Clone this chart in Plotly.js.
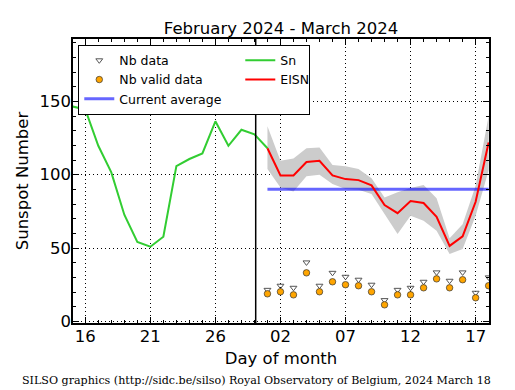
<!DOCTYPE html>
<html>
<head>
<meta charset="utf-8">
<script src="https://cdn.plot.ly/plotly-3.0.1.min.js"></script>
<style>html,body{margin:0;padding:0;background:#fff;}#chart{width:515px;height:390px;}</style>
</head>
<body>
<div id="chart"></div>
<script>
// ---- data ----
const snDates = ["2024-02-15","2024-02-16","2024-02-17","2024-02-18","2024-02-19","2024-02-20","2024-02-21","2024-02-22","2024-02-23","2024-02-24","2024-02-25","2024-02-26","2024-02-27","2024-02-28","2024-02-29","2024-03-01"];
const snValues = [146.5, 144.5, 119.7, 101.6, 72.7, 54.1, 50.9, 57.7, 105.9, 110.7, 114.5, 136.4, 119.7, 130.6, 127.5, 118.0];

const eisnDates = ["2024-03-01","2024-03-02","2024-03-03","2024-03-04","2024-03-05","2024-03-06","2024-03-07","2024-03-08","2024-03-09","2024-03-10","2024-03-11","2024-03-12","2024-03-13","2024-03-14","2024-03-15","2024-03-16","2024-03-17","2024-03-18"];
const eisnValues = [118.0, 99.5, 99.5, 108.6, 109.5, 99.5, 97.0, 96.3, 92.7, 79.3, 73.8, 82.0, 80.7, 71.3, 51.5, 58.0, 81.5, 122.0];
const eisnUpper = [133.0, 109.5, 111.0, 118.0, 118.6, 106.6, 105.7, 103.8, 97.5, 84.5, 88.0, 91.0, 93.0, 84.0, 56.6, 66.3, 92.5, 140.0];
const eisnLower = [103.8, 91.2, 88.5, 99.0, 100.0, 93.6, 90.2, 89.7, 86.8, 73.2, 59.5, 72.0, 68.6, 61.8, 45.9, 49.3, 72.0, 103.0];

const nbData = [21.5, 24.3, 22.9, 40.2, 24.3, 33.1, 30.4, 28.4, 25.0, 14.5, 21.5, 22.9, 27.0, 33.4, 27.7, 33.4, 19.5, 30.0];
const nbValidData = [18.8, 20.2, 18.1, 33.1, 20.2, 27.0, 25.0, 24.3, 20.2, 11.3, 18.1, 18.1, 22.9, 29.0, 22.9, 28.4, 16.1, 24.3];

const currentAverage = 90.0;
const avgDates = ["2024-03-01", "2024-03-18"];
const monthSeparator = "2024-02-29 02:20";

const xTickVals = ["2024-02-16","2024-02-21","2024-02-26","2024-03-02","2024-03-07","2024-03-12","2024-03-17"];
const xTickText = ["16","21","26","02","07","12","17"];
const yTickVals = [0, 50, 100, 150];
const xRange = ["2024-02-15 01:20", "2024-03-18 00:40"];
const yRange = [-1.1, 192.5];

const titleText = "February 2024 - March 2024";
const xTitle = "Day of month";
const yTitle = "Sunspot Number";
const footer = "SILSO graphics (http://sidc.be/silso) Royal Observatory of Belgium, 2024 March 18";

// ---- traces ----
const traces = [
  {x: eisnDates, y: eisnLower, type: "scatter", mode: "lines", line: {width: 0, color: "rgba(0,0,0,0)"}, showlegend: false, hoverinfo: "skip"},
  {x: eisnDates, y: eisnUpper, type: "scatter", mode: "lines", line: {width: 0, color: "rgba(0,0,0,0)"}, fill: "tonexty", fillcolor: "#cccccc", showlegend: false, hoverinfo: "skip"},
  {x: snDates, y: snValues, type: "scatter", mode: "lines", name: "Sn", line: {color: "#32cd32", width: 2}, legendrank: 2, legendwidth: 24},
  {x: avgDates, y: avgDates.map(() => currentAverage), type: "scatter", mode: "lines", name: "Current average", line: {color: "rgba(0,0,255,0.6)", width: 3}, legendrank: 5},
  {x: eisnDates, y: eisnValues, type: "scatter", mode: "lines", name: "EISN", line: {color: "#ff0000", width: 2}, legendrank: 4, legendwidth: 24},
  {x: eisnDates, y: nbData, type: "scatter", mode: "markers", name: "Nb data", marker: {symbol: "triangle-down-open", size: 6, color: "#555555", line: {width: 1}}, legendrank: 1},
  {x: eisnDates, y: nbValidData, type: "scatter", mode: "markers", name: "Nb valid data", marker: {symbol: "circle", size: 6.5, color: "#ffa500", line: {color: "#333333", width: 0.7}}, legendrank: 3}
];

const axisCommon = {
  showline: true, linecolor: "#000", linewidth: 1.6, mirror: "ticks",
  ticks: "inside", ticklen: 6, tickwidth: 1, tickcolor: "#000",
  showgrid: true, gridcolor: "#000", gridwidth: 1, griddash: "1px,3px",
  zeroline: false,
  tickfont: {size: 16.5, color: "#000"}
};

const layout = {
  width: 515, height: 390,
  margin: {l: 73, r: 26, t: 39, b: 67},
  paper_bgcolor: "#fff", plot_bgcolor: "#fff",
  font: {family: "DejaVu Sans", color: "#000"},
  showlegend: true,
  title: {text: titleText, font: {size: 16.5, color: "#000"}, x: 0.5457, xanchor: "center", y: 0.928, yanchor: "middle"},
  xaxis: Object.assign({}, axisCommon, {
    type: "date", range: xRange,
    tickmode: "array", tickvals: xTickVals, ticktext: xTickText,
    ticklabelstandoff: -2,
    minor: {ticks: "inside", ticklen: 3, tickcolor: "#000", tickmode: "linear", tick0: "2024-02-15", dtick: 86400000, showgrid: false},
    title: {text: xTitle, font: {size: 16.5}, standoff: 7}
  }),
  yaxis: Object.assign({}, axisCommon, {
    range: yRange, tickmode: "array", tickvals: yTickVals,
    ticklabelstandoff: -3,
    minor: {ticks: "inside", ticklen: 3, tickcolor: "#000", tickmode: "linear", tick0: 0, dtick: 10, showgrid: false},
    title: {text: yTitle, font: {size: 16.5}, standoff: 7}
  }),
  legend: {
    x: 0.0127, y: 0.98, xanchor: "left", yanchor: "top",
    orientation: "h", entrywidth: 116, entrywidthmode: "pixels",
    bgcolor: "#fff", bordercolor: "#000", borderwidth: 1,
    font: {size: 12.5, color: "#000"}, traceorder: "normal"
  },
  shapes: [
    {type: "line", xref: "x", yref: "paper", x0: monthSeparator, x1: monthSeparator, y0: 0, y1: 1, line: {color: "#000", width: 1.5}, layer: "above"}
  ],
  annotations: [
    {text: footer, xref: "paper", yref: "paper", x: -0.1265, y: -0.203, xanchor: "left", yanchor: "middle", showarrow: false, font: {family: "DejaVu Serif", size: 11.1, color: "#000"}}
  ]
};

Plotly.newPlot("chart", traces, layout, {displayModeBar: false, staticPlot: true});
</script>
</body>
</html>
